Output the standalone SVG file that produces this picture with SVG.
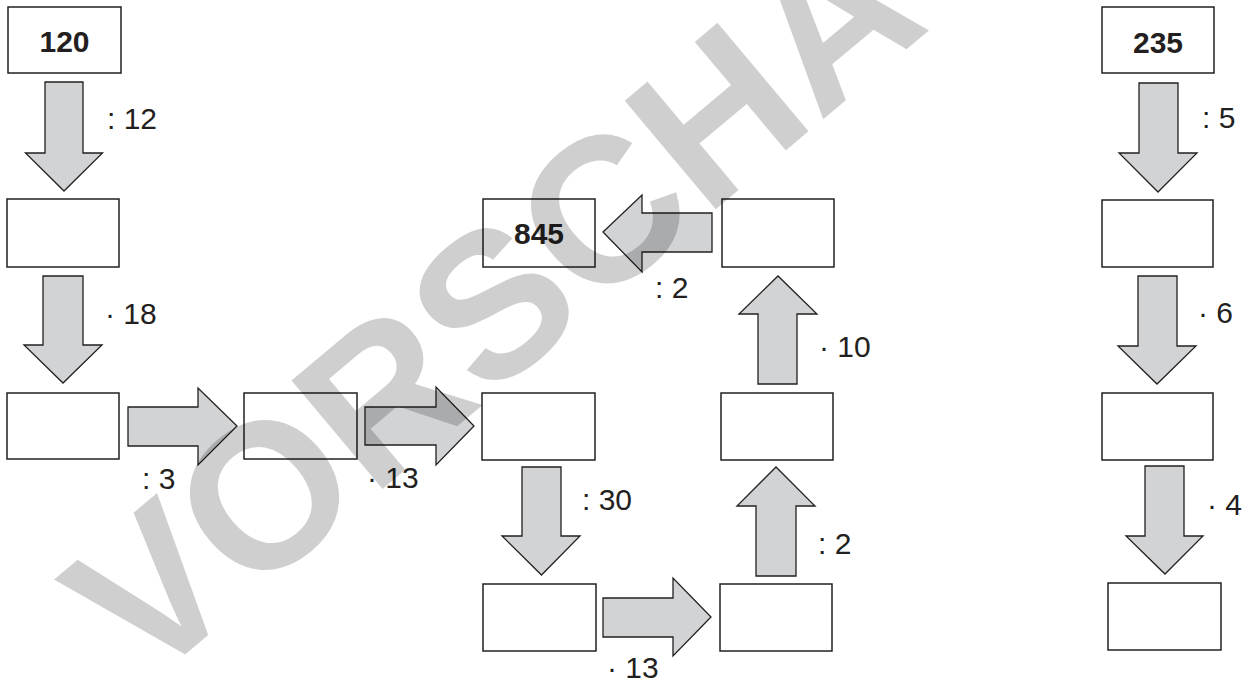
<svg xmlns="http://www.w3.org/2000/svg" width="1251" height="684" viewBox="0 0 1251 684">
<style>
.box{fill:#fff;stroke:#231f20;stroke-width:1.5}
.arr{fill:#d1d3d4;stroke:#231f20;stroke-width:1.3;stroke-linejoin:miter}
.lbl{font-family:"Liberation Sans",Arial,sans-serif;font-size:30px;fill:#231f20}
.num{font-family:"Liberation Sans",Arial,sans-serif;font-size:30px;font-weight:bold;fill:#231f20;text-anchor:middle}
.wm{font-family:"Liberation Sans",Arial,sans-serif;font-size:206px;font-weight:bold;fill:#000;fill-opacity:0.19}
</style>
<rect width="1251" height="684" fill="#fff"/>
<g id="connectors">
<polygon class="arr" points="45,82 83,82 83,153 102.5,153 64,191 25.5,153 45,153"/>
<polygon class="arr" points="43,276 83,276 83,345 102,345 63,383 24,345 43,345"/>
<polygon class="arr" points="128,407 198,407 198,388 237,426 198,465 198,446 128,446"/>
<polygon class="arr" points="365,407 436,407 436,387 474,426 436,465 436,445 365,445"/>
<polygon class="arr" points="522,467 561,467 561,536 580,536 541.5,575 502,536 522,536"/>
<polygon class="arr" points="603,598 673,598 673,578 711,617 673,656 673,637 603,637"/>
<polygon class="arr" points="756,576 796,576 796,506 815,506 776,467 737,506 756,506"/>
<polygon class="arr" points="758,384 797,384 797,314 817,314 778,276 739,314 758,314"/>
<polygon class="arr" points="712,213 642,213 642,195 603,232 642,272 642,252 712,252"/>
<polygon class="arr" points="1139,83 1178,83 1178,153 1197,153 1158,192 1119,153 1139,153"/>
<polygon class="arr" points="1138,276 1177,276 1177,346 1196,346 1157,384 1118,346 1138,346"/>
<polygon class="arr" points="1145,466 1184,466 1184,536 1203,536 1165,574 1126,536 1145,536"/>
<text class="lbl" x="107" y="129">: 12</text>
<text class="lbl" x="105" y="324">· 18</text>
<text class="lbl" x="142" y="489">: 3</text>
<text class="lbl" x="367" y="488">· 13</text>
<text class="lbl" x="655" y="298">: 2</text>
<text class="lbl" x="819" y="357">· 10</text>
<text class="lbl" x="582" y="510">: 30</text>
<text class="lbl" x="818" y="554">: 2</text>
<text class="lbl" x="607" y="678">· 13</text>
<text class="lbl" x="1202" y="128">: 5</text>
<text class="lbl" x="1198" y="323">· 6</text>
<text class="lbl" x="1207" y="515">· 4</text>
</g>
<g id="n120"><rect class="box" x="8" y="7" width="113" height="66"/><text class="num" x="64.5" y="52">120</text></g>
<g id="n_a2"><rect class="box" x="7" y="199" width="112" height="68"/></g>
<g id="n_a3"><rect class="box" x="7" y="393" width="112" height="66"/></g>
<g id="n_a4"><rect class="box" x="244" y="393" width="113" height="66"/></g>
<g id="n845"><rect class="box" x="483" y="199" width="112" height="68"/><text class="num" x="539" y="244">845</text></g>
<g id="n_tr"><rect class="box" x="722" y="199" width="112" height="68"/></g>
<g id="n_mid"><rect class="box" x="482" y="393" width="113" height="67"/></g>
<g id="n_mr"><rect class="box" x="721" y="393" width="112" height="67"/></g>
<g id="n_bl"><rect class="box" x="483" y="584" width="113" height="67"/></g>
<g id="n_br"><rect class="box" x="720" y="584" width="112" height="67"/></g>
<g id="n235"><rect class="box" x="1102" y="7" width="112" height="66"/><text class="num" x="1158" y="53">235</text></g>
<g id="n_r2"><rect class="box" x="1102" y="200" width="111" height="67"/></g>
<g id="n_r3"><rect class="box" x="1102" y="393" width="111" height="67"/></g>
<g id="n_r4"><rect class="box" x="1108" y="583" width="113" height="67"/></g>
<g id="watermark"><text class="wm" transform="translate(144,689) rotate(-40)">VORSCHAU</text></g>
</svg>
